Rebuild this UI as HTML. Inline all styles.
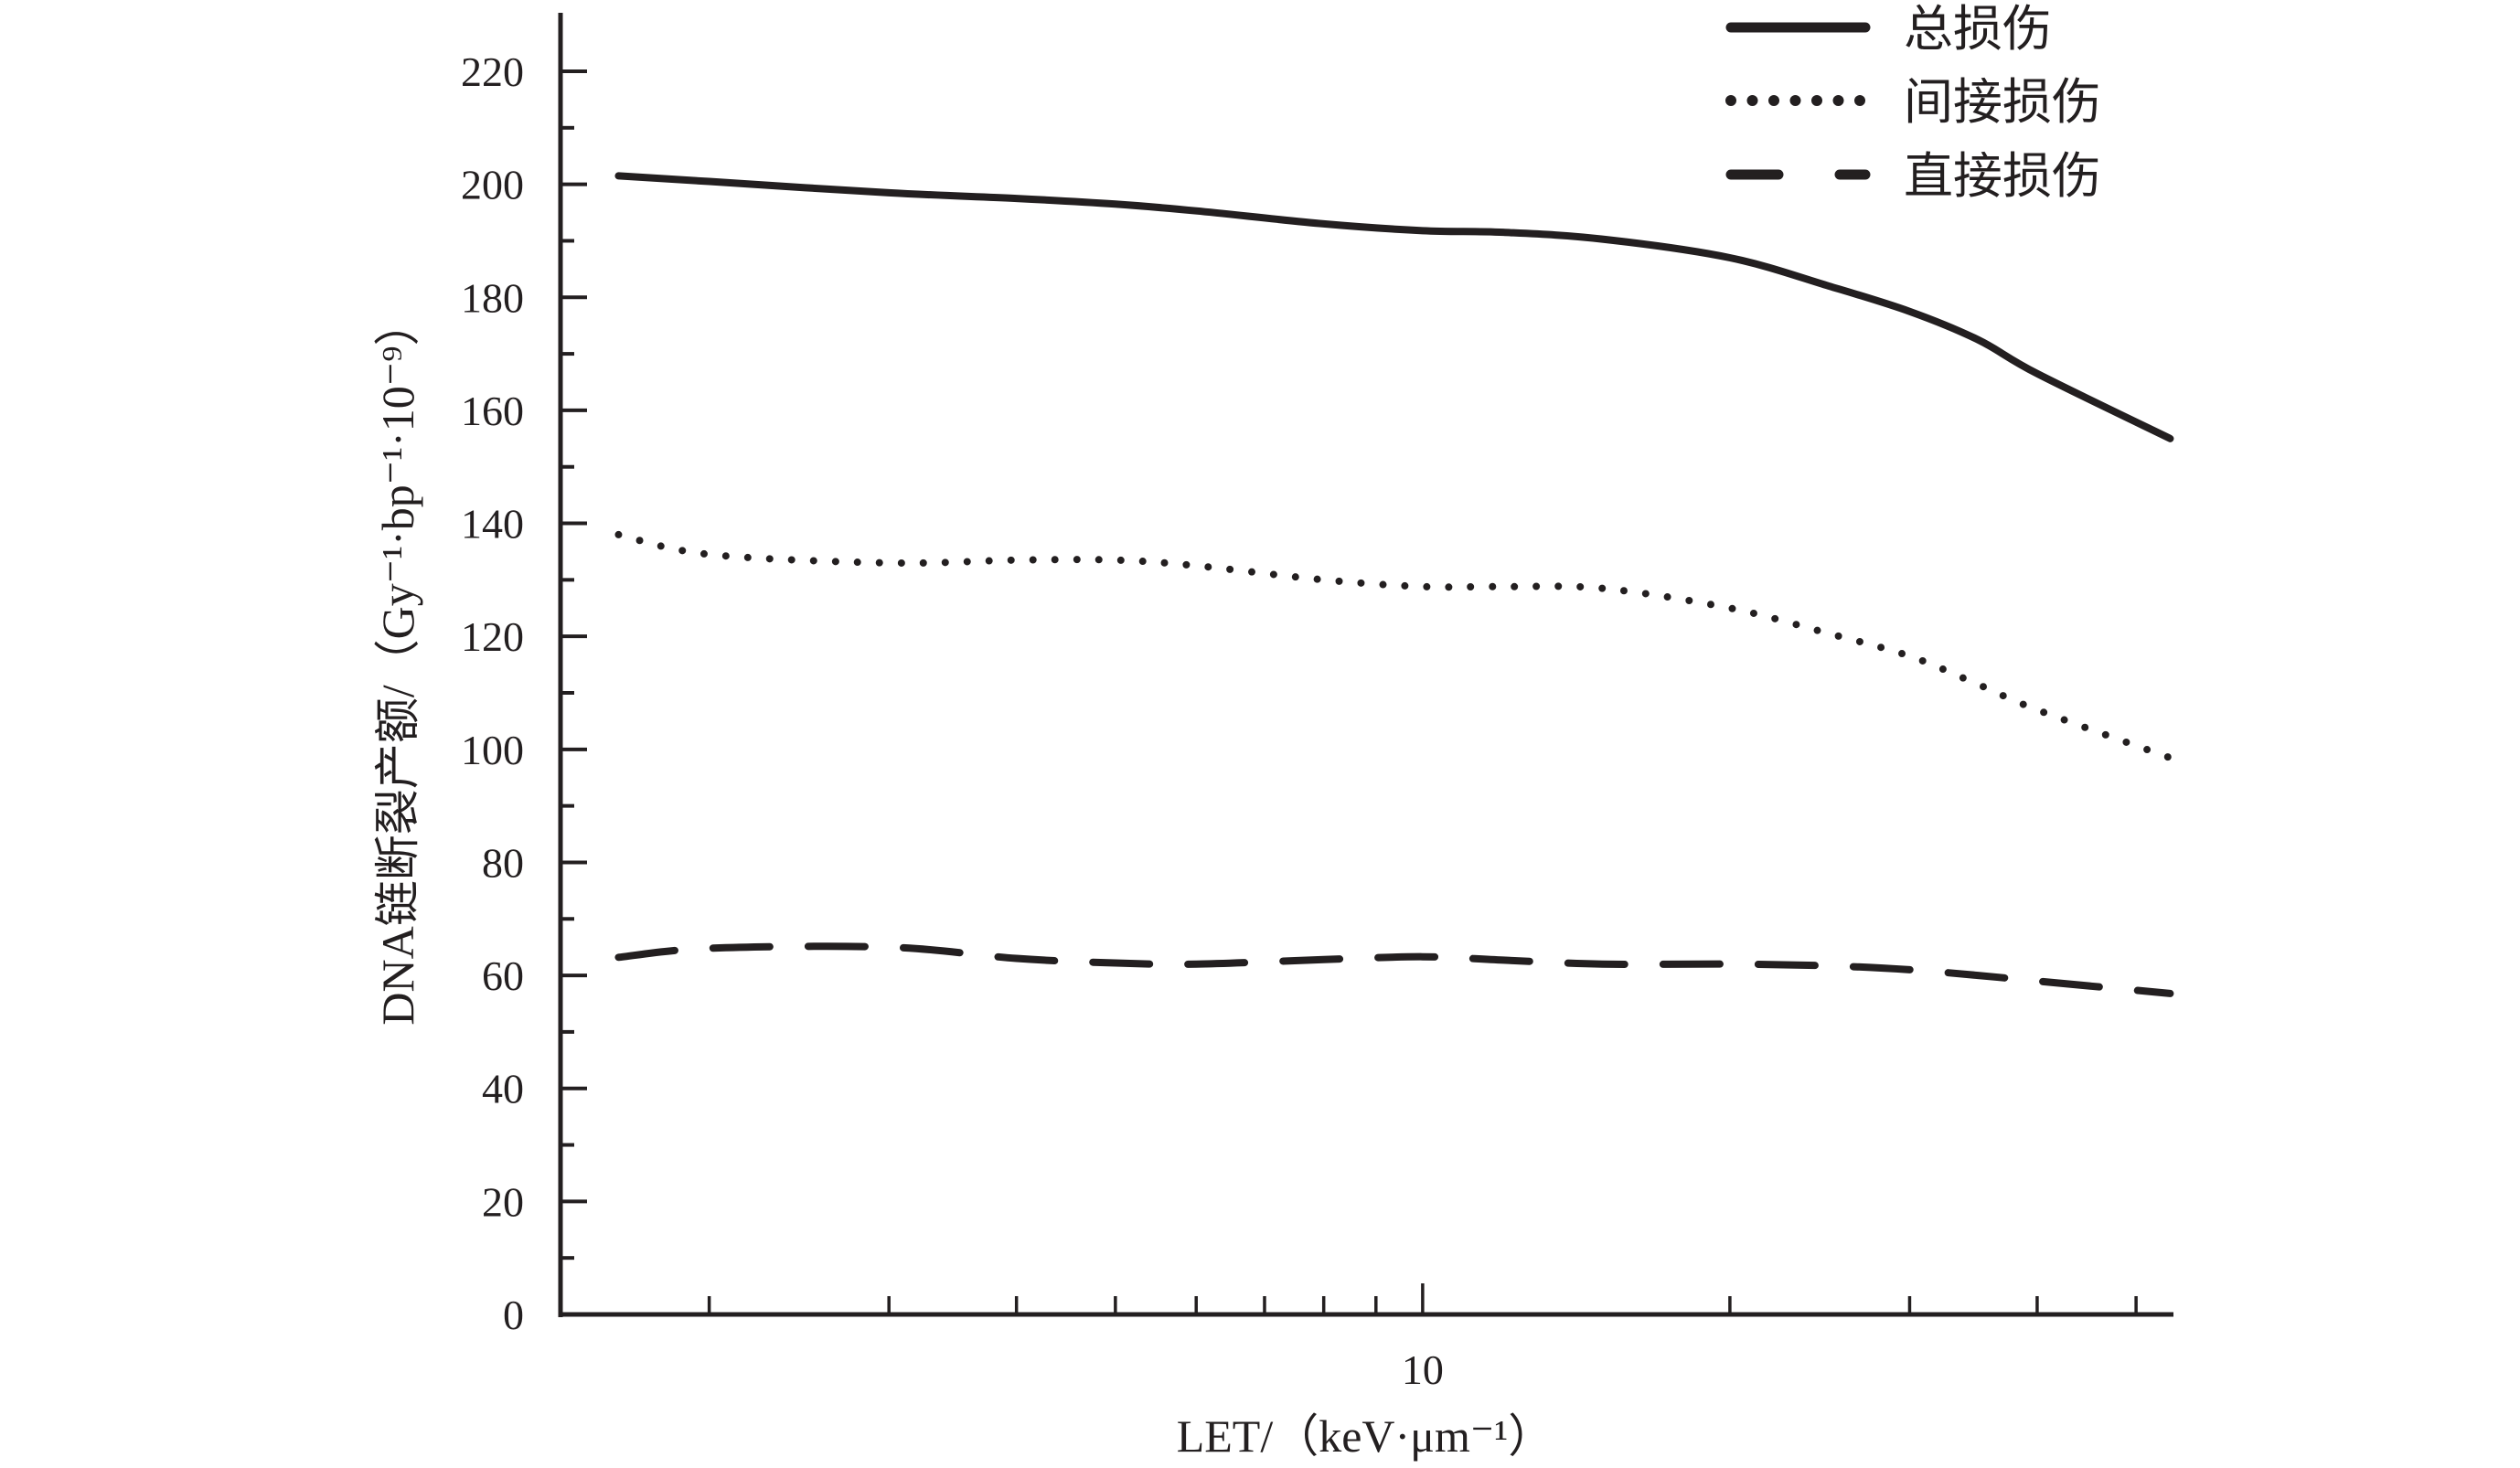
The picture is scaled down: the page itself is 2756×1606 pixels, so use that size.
<!DOCTYPE html>
<html><head><meta charset="utf-8"><style>
html,body{margin:0;padding:0;background:#fff;}
svg{display:block;}
text{font-family:"Liberation Serif","Noto Serif CJK SC",serif;fill:#231f20;}
.cjk{font-family:"Liberation Serif","Noto Sans CJK SC",sans-serif;}
</style></head><body>
<svg id="chart" width="2756" height="1606" viewBox="0 0 2756 1606" xmlns="http://www.w3.org/2000/svg">
<g id="axes"></g>
<g id="series"></g>
<g id="legend">
  <line x1="1893" y1="30" x2="2040" y2="30" stroke="#231f20" stroke-width="11" stroke-linecap="round"/>
  <text class="cjk" x="2082" y="50" font-size="54">总损伤</text>
  <line x1="1893" y1="110" x2="2040" y2="110" stroke="#231f20" stroke-width="12" stroke-linecap="round" stroke-dasharray="0 23.5"/>
  <text class="cjk" x="2082" y="130" font-size="54">间接损伤</text>
  <line x1="1893" y1="191" x2="2040" y2="191" stroke="#231f20" stroke-width="11" stroke-linecap="round" stroke-dasharray="52 67"/>
  <text class="cjk" x="2082" y="211" font-size="54">直接损伤</text>
</g>
<text class="cjk" transform="translate(452,725) rotate(-90)" text-anchor="middle" font-size="50">DNA链断裂产额/（Gy⁻¹·bp⁻¹·10⁻⁹）</text>
<text class="cjk" x="1493" y="1588" text-anchor="middle" font-size="50">LET/（keV·μm⁻¹）</text>
</svg>
<script>
const letValues = [1.63, 2, 3, 4, 5, 6, 8, 10, 12, 15, 20, 25, 30, 35, 40, 54];
const totalDamage = [201.5, 200.5, 198.5, 197.5, 196.5, 195.3, 193, 191.8, 191.5, 190.3, 187, 182, 177.5, 172.5, 166.5, 155];
const indirectDamage = [138, 134.5, 133, 133.5, 133.5, 132.5, 130, 128.8, 128.8, 128.5, 125, 120.5, 116.5, 111.5, 107, 98.5];
const directDamage = [63.2, 64.8, 65, 63, 62.2, 62, 62.8, 63.3, 62.7, 62, 62, 61.7, 61, 60, 59, 56.8];
const yTicks = [0, 20, 40, 60, 80, 100, 120, 140, 160, 180, 200, 220];
const xMinorTicks = [2, 3, 4, 5, 6, 7, 8, 9, 20, 30, 40, 50];
const xMajorTicks = [10];

const NS = "http://www.w3.org/2000/svg";
const X0 = 613, X1 = 2377, Y0 = 1438;
const xLogMin = Math.log10(1.43), xLogMax = Math.log10(54.4);
function xScale(v){ return X0 + (Math.log10(v) - xLogMin) / (xLogMax - xLogMin) * (X1 - X0); }
function yScale(v){ return Y0 - v * (1360 / 220); }
function mk(tag, attrs, parent){ const e = document.createElementNS(NS, tag); for (const k in attrs) e.setAttribute(k, attrs[k]); parent.appendChild(e); return e; }

const axes = document.getElementById('axes');
let el = mk('line', {x1:X0, y1:14, x2:X0, y2:Y0+3, stroke:'#231f20', 'stroke-width':5}, axes);


el = mk('line', {x1:X0-2, y1:Y0, x2:X1, y2:Y0, stroke:'#231f20', 'stroke-width':5}, axes);


yTicks.forEach((t, i) => {
  const y = yScale(t);
  let tk = mk('line', {x1:X0, y1:y, x2:X0+29, y2:y, stroke:'#231f20', 'stroke-width':4}, axes);
  
  
  if (i < yTicks.length - 1) {
    const ym = yScale(t + 10);
    let mt = mk('line', {x1:X0, y1:ym, x2:X0+15, y2:ym, stroke:'#231f20', 'stroke-width':4}, axes);
    
    
  }
  let lb = mk('text', {x:X0-40, y:y+16, 'text-anchor':'end', 'font-size':46}, axes);
  lb.textContent = t;
  
  
});
xMinorTicks.forEach(t => {
  const x = xScale(t);
  let tk = mk('line', {x1:x, y1:Y0, x2:x, y2:Y0-20, stroke:'#231f20', 'stroke-width':3.5}, axes);
  
  
});
xMajorTicks.forEach(t => {
  const x = xScale(t);
  let tk = mk('line', {x1:x, y1:Y0, x2:x, y2:Y0-34, stroke:'#231f20', 'stroke-width':3.5}, axes);
  
  
  let lb = mk('text', {x:x, y:1514, 'text-anchor':'middle', 'font-size':46}, axes);
  lb.textContent = t;
  
  
});

function smoothPath(xs, ys){
  const p = xs.map((x, i) => [xScale(x), yScale(ys[i])]);
  let d = 'M' + p[0][0] + ',' + p[0][1];
  for (let i = 0; i < p.length - 1; i++) {
    const p0 = p[Math.max(0, i-1)], p1 = p[i], p2 = p[i+1], p3 = p[Math.min(p.length-1, i+2)];
    const c1x = p1[0] + (p2[0]-p0[0])/6, c1y = p1[1] + (p2[1]-p0[1])/6;
    const c2x = p2[0] - (p3[0]-p1[0])/6, c2y = p2[1] - (p3[1]-p1[1])/6;
    d += ' C' + c1x + ',' + c1y + ' ' + c2x + ',' + c2y + ' ' + p2[0] + ',' + p2[1];
  }
  return d;
}
const series = document.getElementById('series');
let s = mk('path', {d:smoothPath(letValues, totalDamage), fill:'none', stroke:'#231f20', 'stroke-width':8, 'stroke-linecap':'round'}, series);


s = mk('path', {d:smoothPath(letValues, indirectDamage), fill:'none', stroke:'#231f20', 'stroke-width':8, 'stroke-linecap':'round', 'stroke-dasharray':'0 24'}, series);


s = mk('path', {d:smoothPath(letValues, directDamage), fill:'none', stroke:'#231f20', 'stroke-width':8, 'stroke-linecap':'round', 'stroke-dasharray':'62 42'}, series);


</script>
</body></html>
